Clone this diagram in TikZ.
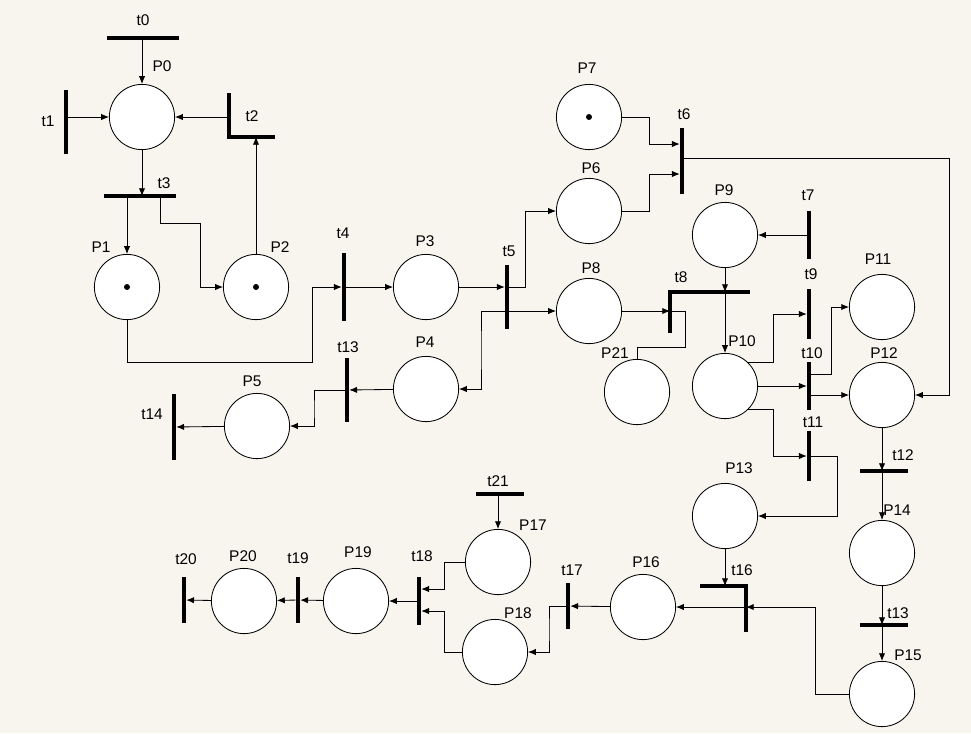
\documentclass[tikz,border=0pt]{standalone}
\usepackage{fontspec}
\setmainfont{Liberation Sans}
\usepackage{xcolor}
\usetikzlibrary{arrows.meta}
\definecolor{paperbg}{HTML}{F8F5EF}

\tikzset{
  place/.style={circle,draw,fill=white,line width=0.6pt,inner sep=0pt,minimum size=1.63cm},
  vbar/.style={rectangle,fill=black,inner sep=0pt,minimum width=0.1cm,minimum height=#1},
  hbar/.style={rectangle,fill=black,inner sep=0pt,minimum height=0.1cm,minimum width=#1},
  lbar/.style={line width=0.1cm},
  arc/.style={line width=0.6pt,-{Latex[length=5.5pt,width=4.5pt]}},
  plain/.style={line width=0.6pt},
  lbl/.style={font=\fontsize{11pt}{13pt}\selectfont,inner sep=0pt}
}

\begin{document}
\begin{tikzpicture}[x=0.025cm,y=-0.025cm]

\fill[paperbg] (0,0) rectangle (971,733);
\useasboundingbox (0,0) rectangle (971,733);

% Places
\node[place] (P0) at (142,117) {};
\node[place] (P1) at (127,287) {};
\node[place] (P2) at (256,287) {};
\node[place] (P3) at (426,287) {};
\node[place] (P4) at (426,389) {};
\node[place] (P5) at (257,426) {};
\node[place] (P6) at (589,211) {};
\node[place] (P7) at (589,117) {};
\node[place] (P8) at (589,311) {};
\node[place] (P9) at (725,235) {};
\node[place] (P10) at (725,386) {};
\node[place] (P11) at (882,307) {};
\node[place] (P12) at (882,395) {};
\node[place] (P13) at (725,516) {};
\node[place] (P14) at (882,553) {};
\node[place] (P15) at (882,694) {};
\node[place] (P16) at (643,607) {};
\node[place] (P17) at (498,562) {};
\node[place] (P18) at (495,652) {};
\node[place] (P19) at (356,601) {};
\node[place] (P20) at (244,601) {};
\node[place] (P21) at (637,392) {};

% Tokens
\fill (P1) circle[radius=0.075cm];
\fill (P2) circle[radius=0.075cm];
\fill (P7) circle[radius=0.075cm];

% Transitions
\node[hbar=1.78cm] (t0) at (143,38) {};
\node[vbar=1.6cm] (t1) at (66,122) {};
\node[hbar=1.78cm] (t3) at (140,196) {};
\node[vbar=1.72cm] (t4) at (344,287) {};
\node[vbar=1.62cm] (t5) at (507,297) {};
\node[vbar=1.65cm] (t6) at (682,161) {};
\node[vbar=1.22cm] (t7) at (809,235) {};
\node[vbar=1.25cm] (t9) at (809,314) {};
\node[vbar=1.2cm] (t10) at (809,386) {};
\node[vbar=1.25cm] (t11) at (809,456) {};
\node[hbar=1.2cm] (t12) at (884,471) {};
\node[hbar=1.2cm] (t13r) at (884,625) {};
\node[vbar=1.62cm] (t13) at (347,390) {};
\node[vbar=1.65cm] (t14) at (174,427) {};
\node[vbar=1.15cm] (t17) at (568,606) {};
\node[vbar=1.18cm] (t18) at (419,601) {};
\node[vbar=1.15cm] (t19) at (298,600) {};
\node[vbar=1.15cm] (t20) at (184,600) {};
\node[hbar=1.18cm] (t21) at (500,494) {};

% L-shaped transitions
\coordinate (t2) at (229,137);
\draw[lbar] (229,93) |- (275,137);
\coordinate (t8) at (670,292);
\draw[lbar] (670,333) |- (750,292);
\coordinate (t16) at (746,586);
\draw[lbar] (700,586) -| (746,632);

% Arcs of the upper left part
\draw[arc] (P0 |- t0) -- (P0);
\draw[arc] (t1 |- P0) -- (P0);
\draw[arc] (t2 |- P0) -- (P0);
\draw[arc] (P0) -- (P0 |- t3);
\draw[arc] (P1 |- t3) -- (P1);
\draw[arc] (t3 -| 160,0) |- (200,223) |- (P2);
\draw[arc] (P2) -- (P2 |- t2);
\draw[arc] (P1) |- (312,362) |- (t4);
\draw[arc] (t4) -- (P3);
\draw[arc] (P3) -- (t5.west |- P3);

% Arcs round t5 and t6
\draw[arc] (t5 |- P3) -- (525,287) |- (P6);
\draw[arc] (t5 |- P8) -- (P8);
\draw[arc] (t5 |- P8) -| (481,350) |- (P4);
\draw[arc] (P7) -| (649,144) -- (t6.west |- 0,144);
\draw[arc] (P6) -| (649,174) -- (t6.west |- 0,174);
\draw[arc] (t6 |- 0,158) -- (949,158) |- (P12);

% Arcs round t7 to t11
\draw[arc] (t7) -- (P9);
\draw[arc] (P9) -- (P9 |- t8);
\draw[arc] (P10 |- t8) -- (P10);
\draw[arc] (P8) -- (t8 |- P8);
\draw[plain] (P21) |- (685,347) |- (t8 |- P8);
\draw[arc] (P10.45) -| (773,330) |- (t9);
\draw[arc] (P10) -- (t10);
\draw[arc] (t10 |- 0,374) -| (831,340) |- (P11);
\draw[arc] (t10 |- P12) -- (P12);
\draw[arc] (P10.-45) -| (773,430) |- (t11);
\draw[arc] (t11) -| (837,490) |- (P13);

% Arcs of the right column
\draw[arc] (P12) -- (P12 |- t12);
\draw[arc] (P14 |- t12) -- (P14);
\draw[arc] (P14) -- (P14 |- t13r);
\draw[arc] (P15 |- t13r) -- (P15);
\draw[arc] (P15) -| (815,650) |- (t16 |- P16);
\draw[arc] (P13) -- (P13 |- t16);
\draw[arc] (t16 |- P16) -- (P16);

% Arcs of the bottom row
\draw[arc] (P16) -- (t17);
\draw[arc] (t17) -| (549,630) |- (P18);
\draw[arc] (P17 |- t21) -- (P17);
\draw[arc] (P17) -| (444,589) -- (t18.east |- 0,589);
\draw[arc] (P18) -| (444,611) -- (t18.east |- 0,611);
\draw[arc] (t18) -- (P19);
\draw[arc] (P19) -- (t19);
\draw[arc] (t19) -- (P20);
\draw[arc] (P20) -- (t20);

% Arcs of the middle left part
\draw[arc] (P4) -- (t13);
\draw[arc] (t13) -| (314,410) |- (P5);
\draw[arc] (P5) -- (t14);

% Labels
\node[lbl] (lt0) at (143,20) {t0};
\node[lbl] (lP0) at (162,66) {P0};
\node[lbl] (lt1) at (48,121) {t1};
\node[lbl] (lt2) at (252,116) {t2};
\node[lbl] (lt3) at (164,183) {t3};
\node[lbl] (lP1) at (101,247) {P1};
\node[lbl] (lP2) at (280,247) {P2};
\node[lbl] (lt4) at (343,233) {t4};
\node[lbl] (lP3) at (425,241) {P3};
\node[lbl] (lt5) at (509,251) {t5};
\node[lbl] (lP6) at (591,168) {P6};
\node[lbl] (lP7) at (587,68) {P7};
\node[lbl] (lt6) at (684,114) {t6};
\node[lbl] (lP8) at (591,268) {P8};
\node[lbl] (lt8) at (681,277) {t8};
\node[lbl] (lP21) at (615,353) {P21};
\node[lbl] (lP9) at (724,190) {P9};
\node[lbl] (lt7) at (808,195) {t7};
\node[lbl] (lP10) at (742,341) {P10};
\node[lbl] (lt9) at (811,274) {t9};
\node[lbl] (lt10) at (812,353) {t10};
\node[lbl] (lP11) at (878,259) {P11};
\node[lbl] (lP12) at (884,353) {P12};
\node[lbl] (lt11) at (813,422) {t11};
\node[lbl] (lP13) at (739,468) {P13};
\node[lbl] (lt12) at (903,455) {t12};
\node[lbl] (lP14) at (897,510) {P14};
\node[lbl] (lt13r) at (898,613) {t13};
\node[lbl] (lP15) at (908,655) {P15};
\node[lbl] (lt16) at (742,570) {t16};
\node[lbl] (lP16) at (646,562) {P16};
\node[lbl] (lt17) at (572,570) {t17};
\node[lbl] (lP18) at (518,613) {P18};
\node[lbl] (lt21) at (498,481) {t21};
\node[lbl] (lP17) at (533,525) {P17};
\node[lbl] (lt18) at (422,556) {t18};
\node[lbl] (lP19) at (358,552) {P19};
\node[lbl] (lt19) at (298,558) {t19};
\node[lbl] (lP20) at (243,556) {P20};
\node[lbl] (lt20) at (186,559) {t20};
\node[lbl] (lt13) at (348,347) {t13};
\node[lbl] (lP4) at (425,342) {P4};
\node[lbl] (lP5) at (252,381) {P5};
\node[lbl] (lt14) at (152,414) {t14};

\end{tikzpicture}
\end{document}
